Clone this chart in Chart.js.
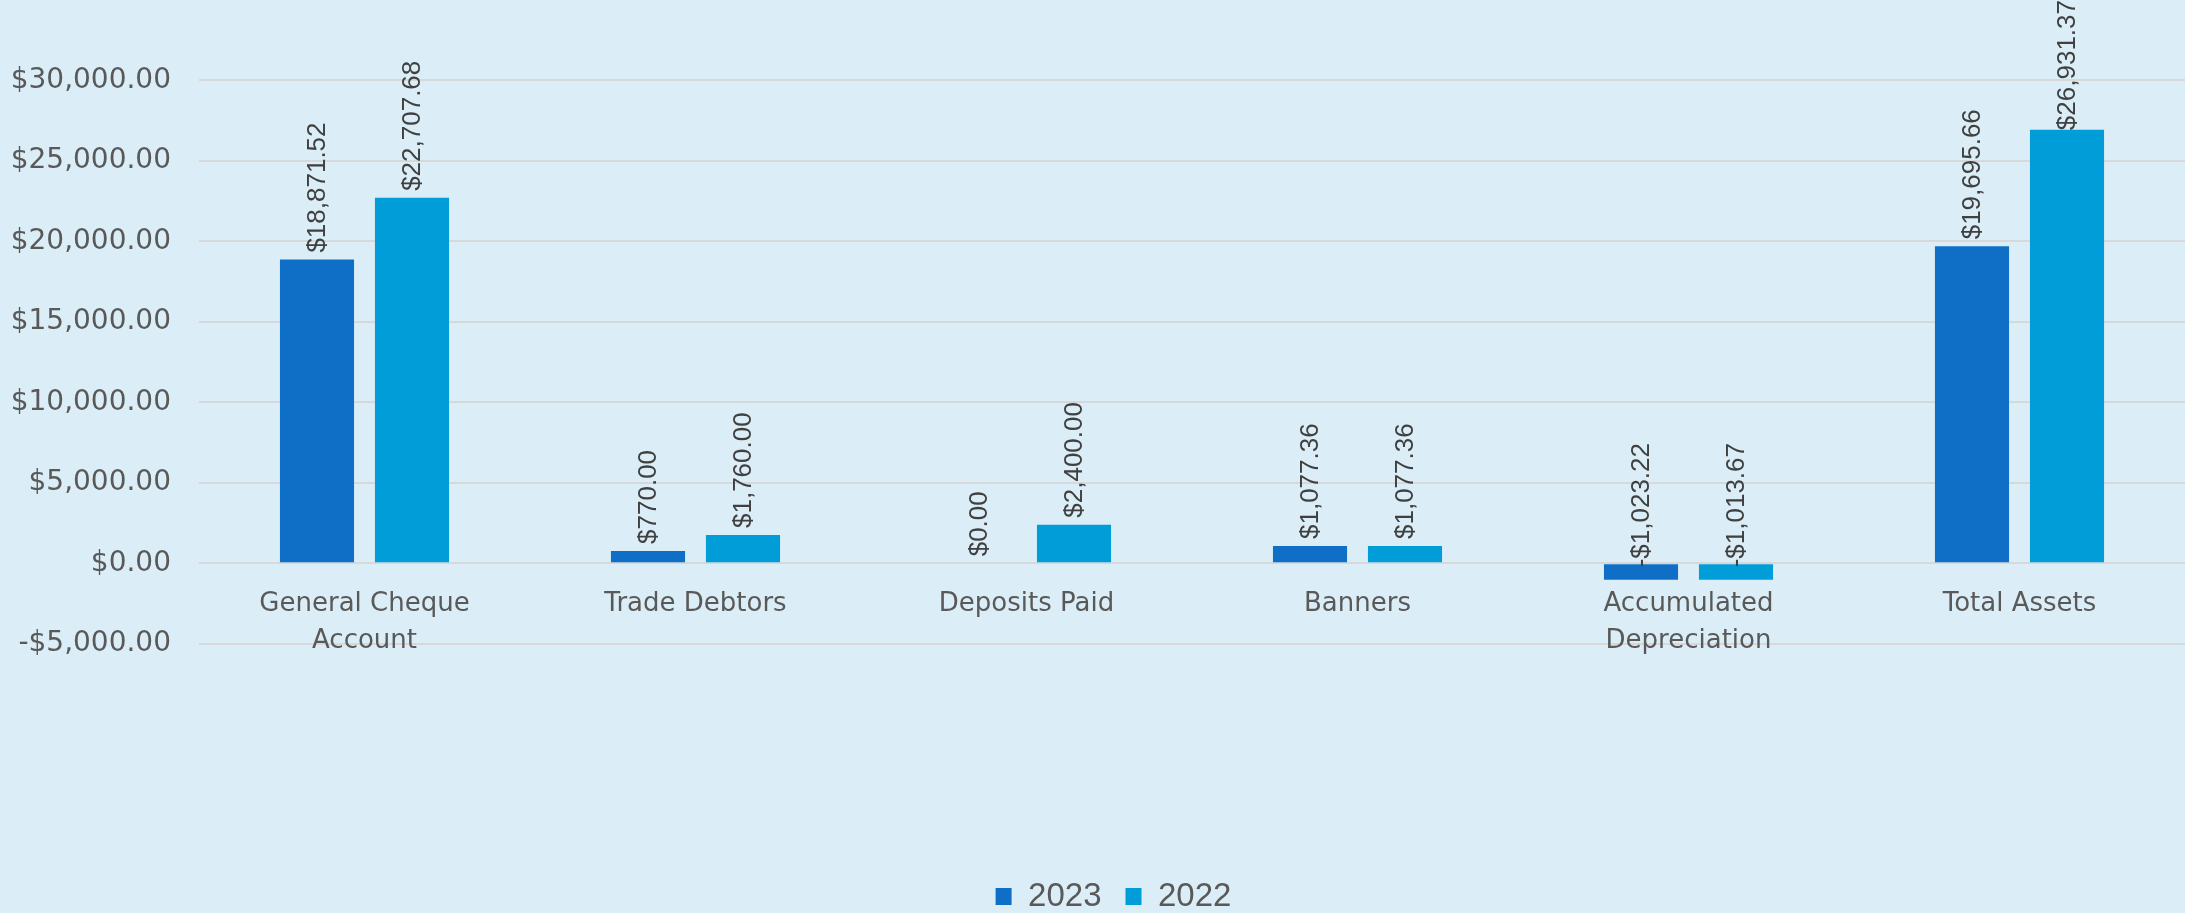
<!DOCTYPE html>
<html lang="en">
<head>
  <meta charset="UTF-8" />
  <title>Assets 2023 vs 2022</title>
  <script src="https://cdn.jsdelivr.net/npm/chart.js"></script>
  <style>
    html, body {
      margin: 0;
      padding: 0;
      background-color: #dbeef7;
      height: 100%;
      width: 100%;
      overflow: hidden;
    }
    #chart-container {
      position: relative;
      width: 100vw;
      height: 100vh;
    }
  </style>
</head>
<body>
  <div id="chart-container">
    <canvas id="assetsChart"></canvas>
  </div>

  <script>
    // data
    const categories = [
      ['General Cheque', 'Account'],
      'Trade Debtors',
      'Deposits Paid',
      'Banners',
      ['Accumulated', 'Depreciation'],
      'Total Assets'
    ];
    const values2023 = [18871.52, 770.00, 0.00, 1077.36, -1023.22, 19695.66];
    const values2022 = [22707.68, 1760.00, 2400.00, 1077.36, -1013.67, 26931.37];
    const seriesNames = ['2023', '2022'];
    const yTicks = { min: -5000, max: 35000, step: 5000 };

    const BG = '#dbeef7';
    const GRID = '#d6d8d9';
    const TEXT = '#595959';

    function money(v) {
      const s = '$' + Math.abs(v).toLocaleString('en-US', { minimumFractionDigits: 2, maximumFractionDigits: 2 });
      return v < 0 ? '-' + s : s;
    }

    // Plugin to fill canvas background
    Chart.register({
      id: 'bg',
      beforeDraw: (chart) => {
        const ctx = chart.ctx;
        ctx.save();
        ctx.fillStyle = BG;
        ctx.fillRect(0, 0, chart.width, chart.height);
        ctx.restore();
      }
    });

    // nudge the legend a bit to the right, like the original
    Chart.register({
      id: 'legendShift',
      afterLayout: (chart) => {
        if (chart.legend) {
          chart.legend.left += 21;
          chart.legend.right += 21;
        }
      }
    });

    // Plugin for rotated value labels above each bar
    Chart.register({
      id: 'barLabels',
      afterDatasetsDraw: (chart) => {
        const ctx = chart.ctx;
        const top = chart.chartArea.top;
        ctx.save();
        ctx.font = '26px "Liberation Sans", Arial, sans-serif';
        ctx.fillStyle = '#404040';
        ctx.textAlign = 'left';
        ctx.textBaseline = 'middle';
        chart.data.datasets.forEach((ds, i) => {
          const meta = chart.getDatasetMeta(i);
          meta.data.forEach((bar, j) => {
            const v = ds.data[j];
            const txt = money(v);
            const w = ctx.measureText(txt).width;
            let start = v >= 0 ? Math.min(bar.y, bar.base) - 7 : bar.base + 3;
            if (start - w < top) start = top + w;
            ctx.save();
            ctx.translate(bar.x + 1, start);
            ctx.rotate(-Math.PI / 2);
            ctx.fillText(txt, 0, 0);
            ctx.restore();
          });
        });
        ctx.restore();
      }
    });

    const ctx = document.getElementById('assetsChart').getContext('2d');

    new Chart(ctx, {
      type: 'bar',
      data: {
        labels: categories,
        datasets: [
          {
            label: seriesNames[0],
            data: values2023,
            backgroundColor: '#0f6fc6',
            barPercentage: 0.78,
            categoryPercentage: 0.574
          },
          {
            label: seriesNames[1],
            data: values2022,
            backgroundColor: '#009dd9',
            barPercentage: 0.78,
            categoryPercentage: 0.574
          }
        ]
      },
      options: {
        responsive: true,
        maintainAspectRatio: false,
        animation: false,
        layout: { padding: { left: 0, right: 0, top: 0, bottom: -10 } },
        plugins: {
          tooltip: { enabled: false },
          legend: {
            position: 'bottom',
            title: {
              display: true,
              text: '',
              font: { size: 1 },
              padding: { top: 211, bottom: 0 }
            },
            labels: {
              color: TEXT,
              font: { family: '"Liberation Sans", Arial, sans-serif', size: 33 },
              boxWidth: 16,
              boxHeight: 17,
              padding: 24
            }
          }
        },
        scales: {
          x: {
            position: { y: 0 },
            grid: { display: false },
            border: { display: false },
            ticks: {
              color: TEXT,
              font: { family: '"DejaVu Sans", sans-serif', size: 26, lineHeight: 1.4 },
              padding: 15,
              maxRotation: 0,
              autoSkip: false
            }
          },
          y: {
            min: yTicks.min,
            max: yTicks.max,
            afterFit: (s) => {
              s.width = 199;
              s.paddingTop = 0;
              s.paddingBottom = 0;
            },
            border: { display: false },
            grid: {
              drawTicks: false,
              lineWidth: 2,
              color: (c) => (c.tick && c.tick.value === yTicks.max ? 'rgba(0,0,0,0)' : GRID)
            },
            ticks: {
              stepSize: yTicks.step,
              padding: 28,
              color: TEXT,
              font: { family: '"DejaVu Sans", sans-serif', size: 28 },
              callback: (v) => (v === yTicks.max ? null : money(v))
            }
          }
        }
      }
    });
  </script>
</body>
</html>
